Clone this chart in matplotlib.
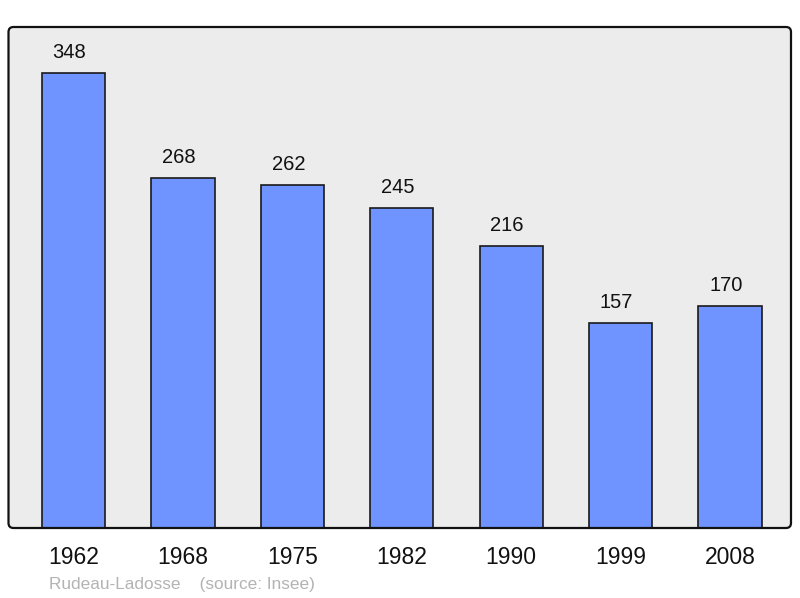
import matplotlib
matplotlib.use("Agg")
import matplotlib.pyplot as plt
from matplotlib.patches import FancyBboxPatch
from matplotlib.transforms import IdentityTransform

annees = ["1962", "1968", "1975", "1982", "1990", "1999", "2008"]
population = [348, 268, 262, 245, 216, 157, 170]

plt.rcParams['font.family'] = ['Liberation Sans', 'DejaVu Sans']

W, H = 800, 598
fig = plt.figure(figsize=(W / 100, H / 100), dpi=100)

# panel in pixels
x0, x1 = 8.5, 791
y_top, y_bot = 27, 528
ax = fig.add_axes([x0 / W, (H - y_bot) / H, (x1 - x0) / W, (y_bot - y_top) / H])
ax.set_facecolor('none')
ax.set_zorder(1)

xs = list(range(len(annees)))
ax.bar(xs, population, width=0.578, color='#7094ff', edgecolor='#1a1a1a',
       linewidth=1.2, zorder=3)
for x, v in zip(xs, population):
    ax.text(x - 0.037, v + 11.5, str(v), ha='center', va='baseline',
            fontsize=14.5, color='#111111')

ax.set_xlim(-0.594, 6.558)
ax.set_ylim(0, 383.2)
ax.set_xticks(xs)
ax.set_xticklabels(annees, fontsize=16.5, color='#111111')
ax.tick_params(axis='x', length=0, pad=13)
ax.set_yticks([])
for s in ax.spines.values():
    s.set_visible(False)

# rounded gray frame: fill under the axes, outline over it
fond = FancyBboxPatch((x0, H - y_bot), x1 - x0, y_bot - y_top,
                      boxstyle="round,pad=0,rounding_size=5",
                      facecolor='#ececec', edgecolor='none',
                      transform=IdentityTransform(), zorder=-1)
bord = FancyBboxPatch((x0, H - y_bot), x1 - x0, y_bot - y_top,
                      boxstyle="round,pad=0,rounding_size=5",
                      facecolor='none', edgecolor='#111111', linewidth=1.6,
                      transform=IdentityTransform(), zorder=5)
fig.patches.extend([fond, bord])

fig.text(49 / W, 1 - 584 / H, "Rudeau-Ladosse    (source: Insee)", fontsize=12.4,
         color='#b3b3b3', ha='left', va='center')

fig.savefig("out.png", dpi=100)
